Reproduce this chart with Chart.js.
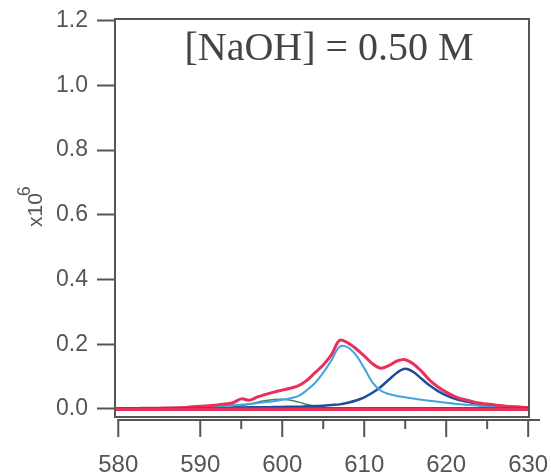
<!DOCTYPE html>
<html>
<head>
<meta charset="utf-8">
<script src="https://cdn.jsdelivr.net/npm/chart.js"></script>
<style>
  body { margin: 0; background: #fff; }
</style>
</head>
<body>
<canvas id="naoh-chart" width="551" height="474"></canvas>
<script>
// wavelength grid (nm)
var wavelength = [580,581,582,583,584,585,586,587,588,589,590,591,592,593,594,595,596,597,598,599,
  600,601,602,603,604,605,606,607,608,609,610,611,612,613,614,615,616,617,618,619,
  620,621,622,623,624,625,626,627,628,629,630];

// measured spectrum (red)
var total = [0.001,0.001,0.001,0.002,0.002,0.002,0.003,0.003,0.004,0.007,0.008,0.010,0.012,0.015,0.019,0.031,0.027,0.037,0.045,0.052,
  0.058,0.064,0.072,0.088,0.112,0.136,0.167,0.212,0.204,0.186,0.164,0.140,0.126,0.134,0.148,0.152,0.139,0.116,0.088,0.068,
  0.052,0.039,0.030,0.024,0.018,0.015,0.012,0.009,0.007,0.005,0.004];

// fitted components
var peak607 = [0.001,0.001,0.002,0.002,0.002,0.003,0.003,0.004,0.004,0.005,0.006,0.007,0.008,0.009,0.011,0.013,0.015,0.018,0.021,0.024,
  0.028,0.033,0.040,0.058,0.080,0.112,0.150,0.192,0.190,0.166,0.126,0.082,0.057,0.046,0.040,0.036,0.032,0.028,0.025,0.022,
  0.019,0.016,0.014,0.012,0.010,0.008,0.007,0.006,0.005,0.005,0.004];
var peak615 = [0.000,0.000,0.001,0.001,0.001,0.001,0.001,0.002,0.002,0.002,0.002,0.003,0.003,0.003,0.004,0.004,0.005,0.005,0.005,0.006,
  0.006,0.007,0.007,0.008,0.009,0.010,0.012,0.014,0.019,0.026,0.036,0.050,0.068,0.090,0.112,0.124,0.114,0.093,0.072,0.055,
  0.042,0.032,0.025,0.020,0.016,0.013,0.011,0.009,0.007,0.006,0.005];
var peak600 = [null,null,null,null,null,null,null,null,null,null,null,null,0.000,0.002,0.005,0.009,0.015,0.021,0.026,0.029,
  0.030,0.027,0.021,0.014,0.008,0.004,0.002,0.001,0.000,null,null,null,null,null,null,null,null,null,null,null,
  null,null,null,null,null,null,null,null,null,null,null];

// baselines
var baseX = [579.7, 630];
var baseRed = [-0.002, -0.002];
var baseBlue = [0.003, 0.003];

var xTicks = [580, 590, 600, 610, 620, 630];
var xMinor = [595, 605, 615, 625];
var yTicks = [0, 0.2, 0.4, 0.6, 0.8, 1.0, 1.2];

function pts(xs, ys) {
  return xs.map(function (x, i) { return { x: x, y: ys[i] }; });
}

var axisColor = '#555';

var frame = {
  id: 'frame',
  afterDraw: function (chart) {
    var ctx = chart.ctx, a = chart.chartArea, xs = chart.scales.x;
    ctx.save();
    ctx.strokeStyle = axisColor;
    ctx.lineWidth = 2;
    ctx.strokeRect(a.left, a.top, a.right - a.left, a.bottom - a.top);
    // detached x axis line with ticks
    var y0 = a.bottom + 3;
    ctx.beginPath();
    ctx.moveTo(xs.getPixelForValue(580) - 1, y0);
    ctx.lineTo(a.right + 11, y0);
    xTicks.forEach(function (v) {
      var px = xs.getPixelForValue(v);
      ctx.moveTo(px, y0);
      ctx.lineTo(px, y0 + 17);
    });
    xMinor.forEach(function (v) {
      var px = xs.getPixelForValue(v);
      ctx.moveTo(px, y0);
      ctx.lineTo(px, y0 + 9);
    });
    ctx.stroke();
    // label inside the frame
    ctx.fillStyle = '#444';
    ctx.font = '40px "Liberation Serif"';
    ctx.textAlign = 'center';
    ctx.textBaseline = 'alphabetic';
    ctx.fillText('[NaOH] = 0.50 M', a.left + 0.517 * (a.right - a.left), a.top + 41);
    // y axis label x10^6
    ctx.translate(42, 227);
    ctx.rotate(-Math.PI / 2);
    ctx.fillStyle = axisColor;
    ctx.textAlign = 'left';
    ctx.font = '21px "Liberation Sans"';
    ctx.fillText('x10', 0, 0);
    var w = ctx.measureText('x10').width;
    ctx.font = '18px "Liberation Sans"';
    ctx.fillText('6', w - 3, -12);
    ctx.restore();
  }
};

new Chart(document.getElementById('naoh-chart'), {
  type: 'line',
  data: {
    datasets: [
      { data: pts(baseX, baseRed), borderColor: '#e8305a', borderWidth: 3, order: 0 },
      { data: pts(baseX, baseBlue), borderColor: '#3559b0', borderWidth: 2, order: 1 },
      { data: pts(wavelength, total), borderColor: '#e8305a', borderWidth: 3, order: 2 },
      { data: pts(wavelength, peak607), borderColor: '#3ea6dc', borderWidth: 2, order: 3 },
      { data: pts(wavelength, peak615), borderColor: '#1f4d9c', borderWidth: 2.5, order: 4 },
      { data: pts(wavelength, peak600), borderColor: '#3d8a62', borderWidth: 1.5, order: 5 }
    ]
  },
  options: {
    responsive: false,
    animation: false,
    devicePixelRatio: 1,
    layout: { padding: { left: 0, top: 19, right: 22, bottom: 0 } },
    elements: {
      point: { radius: 0 },
      line: { tension: 0.35, fill: false }
    },
    plugins: {
      legend: { display: false },
      tooltip: { enabled: false }
    },
    scales: {
      x: {
        type: 'linear',
        min: 579.6,
        max: 630.1,
        afterBuildTicks: function (s) { s.ticks = xTicks.map(function (v) { return { value: v }; }); },
        afterFit: function (s) { s.height = 57; s.paddingLeft = 0; s.paddingRight = 0; },
        grid: { display: false },
        border: { display: false },
        ticks: {
          color: axisColor,
          font: { family: 'Liberation Sans', size: 24 },
          padding: 26,
          maxRotation: 0,
          autoSkip: false
        }
      },
      y: {
        min: -0.025,
        max: 1.205,
        afterBuildTicks: function (s) { s.ticks = yTicks.map(function (v) { return { value: v }; }); },
        afterFit: function (s) { s.width = 115; s.paddingTop = 0; s.paddingBottom = 0; },
        grid: { drawOnChartArea: false, tickLength: 18, tickColor: axisColor, tickWidth: 2 },
        border: { display: true, color: axisColor, width: 2 },
        ticks: {
          color: axisColor,
          font: { family: 'Liberation Sans', size: 23 },
          padding: 9,
          callback: function (v) { return v.toFixed(1); }
        }
      }
    }
  },
  plugins: [frame]
});
</script>
</body>
</html>
